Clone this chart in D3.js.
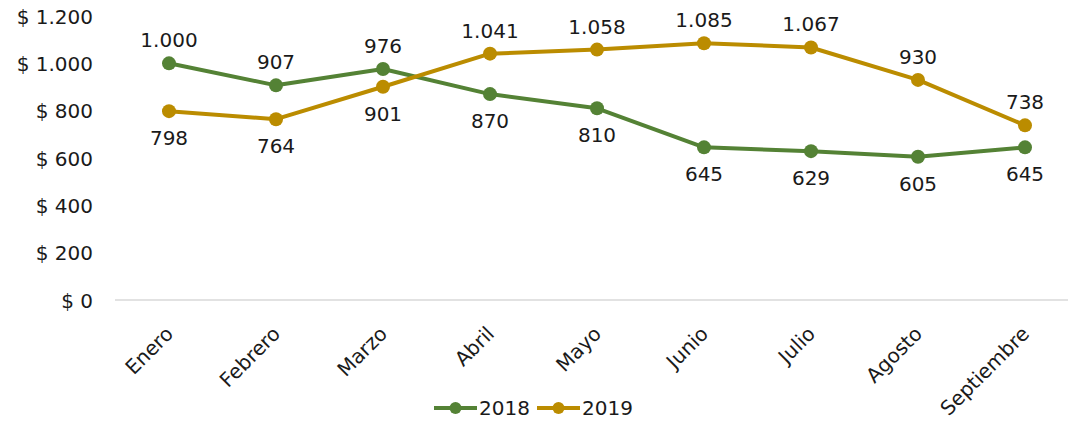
<!DOCTYPE html>
<html>
<head>
<meta charset="utf-8">
<script src="https://cdn.jsdelivr.net/npm/d3@7"></script>
<style>
  body { margin: 0; background: #ffffff; }
  svg text { font-family: "DejaVu Sans", sans-serif; fill: #1a1a1a; }
</style>
</head>
<body>
<script>
var w = 1068;
var h = 429;

// data
var months = ["Enero", "Febrero", "Marzo", "Abril", "Mayo", "Junio", "Julio", "Agosto", "Septiembre"];
var values2018 = [1000, 907, 976, 870, 810, 645, 629, 605, 645];
var values2019 = [798, 764, 901, 1041, 1058, 1085, 1067, 930, 738];
var labelPos2018 = ["above", "above", "above", "below", "below", "below", "below", "below", "below"];
var labelPos2019 = ["below", "below", "below", "above", "above", "above", "above", "above", "above"];
var yTicks = [0, 200, 400, 600, 800, 1000, 1200];

var series = [
  { name: "2018", values: values2018, pos: labelPos2018, color: "#548235" },
  { name: "2019", values: values2019, pos: labelPos2019, color: "#bb8c00" }
];

var svg = d3.select("body").append("svg")
  .attr("width", w)
  .attr("height", h);

// scales
var x = d3.scalePoint()
  .domain(months)
  .range([169, 1025]);

var y = d3.scaleLinear()
  .domain([0, 1200])
  .range([300, 16]);

// format numbers with a dot as thousands separator
function fmt(v) {
  return d3.format(",")(v).replace(/,/g, ".");
}

// y axis labels
var yAxis = d3.axisLeft(y)
  .tickValues(yTicks)
  .tickSize(0)
  .tickPadding(0)
  .tickFormat(function(d) { return "$ " + fmt(d); });

var gy = svg.append("g")
  .attr("transform", "translate(93,0)")
  .call(yAxis);
gy.select(".domain").remove();
gy.attr("font-family", null).attr("font-size", null);
gy.selectAll("text")
  .style("font-size", "20px")
  .attr("dy", "0.36em");

// baseline
svg.append("line")
  .attr("x1", 115)
  .attr("x2", w)
  .attr("y1", y(0))
  .attr("y2", y(0))
  .attr("stroke", "#d9d9d9")
  .attr("stroke-width", 1.5);

// x axis labels, rotated
var xAxis = d3.axisBottom(x).tickSize(0).tickPadding(0);
var gx = svg.append("g")
  .attr("transform", "translate(0,306)")
  .call(xAxis);
gx.select(".domain").remove();
gx.attr("font-family", null).attr("font-size", null);
gx.selectAll("text")
  .style("font-size", "20px")
  .attr("text-anchor", "end")
  .attr("y", 0)
  .attr("dy", 0)
  .attr("transform", "translate(5,29) rotate(-45)");

// lines
var line = d3.line()
  .x(function(d, i) { return x(months[i]); })
  .y(function(d) { return y(d); });

series.forEach(function(s) {
  svg.append("path")
    .datum(s.values)
    .attr("fill", "none")
    .attr("stroke", s.color)
    .attr("stroke-width", 4)
    .attr("stroke-linejoin", "round")
    .attr("d", line);

  svg.selectAll(".dot" + s.name)
    .data(s.values)
    .enter().append("circle")
    .attr("cx", function(d, i) { return x(months[i]); })
    .attr("cy", function(d) { return y(d); })
    .attr("r", 7)
    .attr("fill", s.color);

  svg.selectAll(".lbl" + s.name)
    .data(s.values)
    .enter().append("text")
    .attr("x", function(d, i) { return x(months[i]); })
    .attr("y", function(d, i) { return s.pos[i] == "above" ? y(d) - 16 : y(d) + 34; })
    .attr("text-anchor", "middle")
    .style("font-size", "20px")
    .text(function(d) { return fmt(d); });
});

// legend
var legend = svg.selectAll(".legend")
  .data(series)
  .enter().append("g")
  .attr("class", "legend")
  .attr("transform", function(d, i) { return "translate(" + (434 + i * 103) + ",408)"; });

legend.append("line")
  .attr("x1", 0)
  .attr("x2", 43)
  .attr("stroke", function(d) { return d.color; })
  .attr("stroke-width", 4);

legend.append("circle")
  .attr("cx", 21.5)
  .attr("r", 6)
  .attr("fill", function(d) { return d.color; });

legend.append("text")
  .attr("x", 45)
  .attr("dy", "0.36em")
  .style("font-size", "20px")
  .text(function(d) { return d.name; });
</script>
</body>
</html>
